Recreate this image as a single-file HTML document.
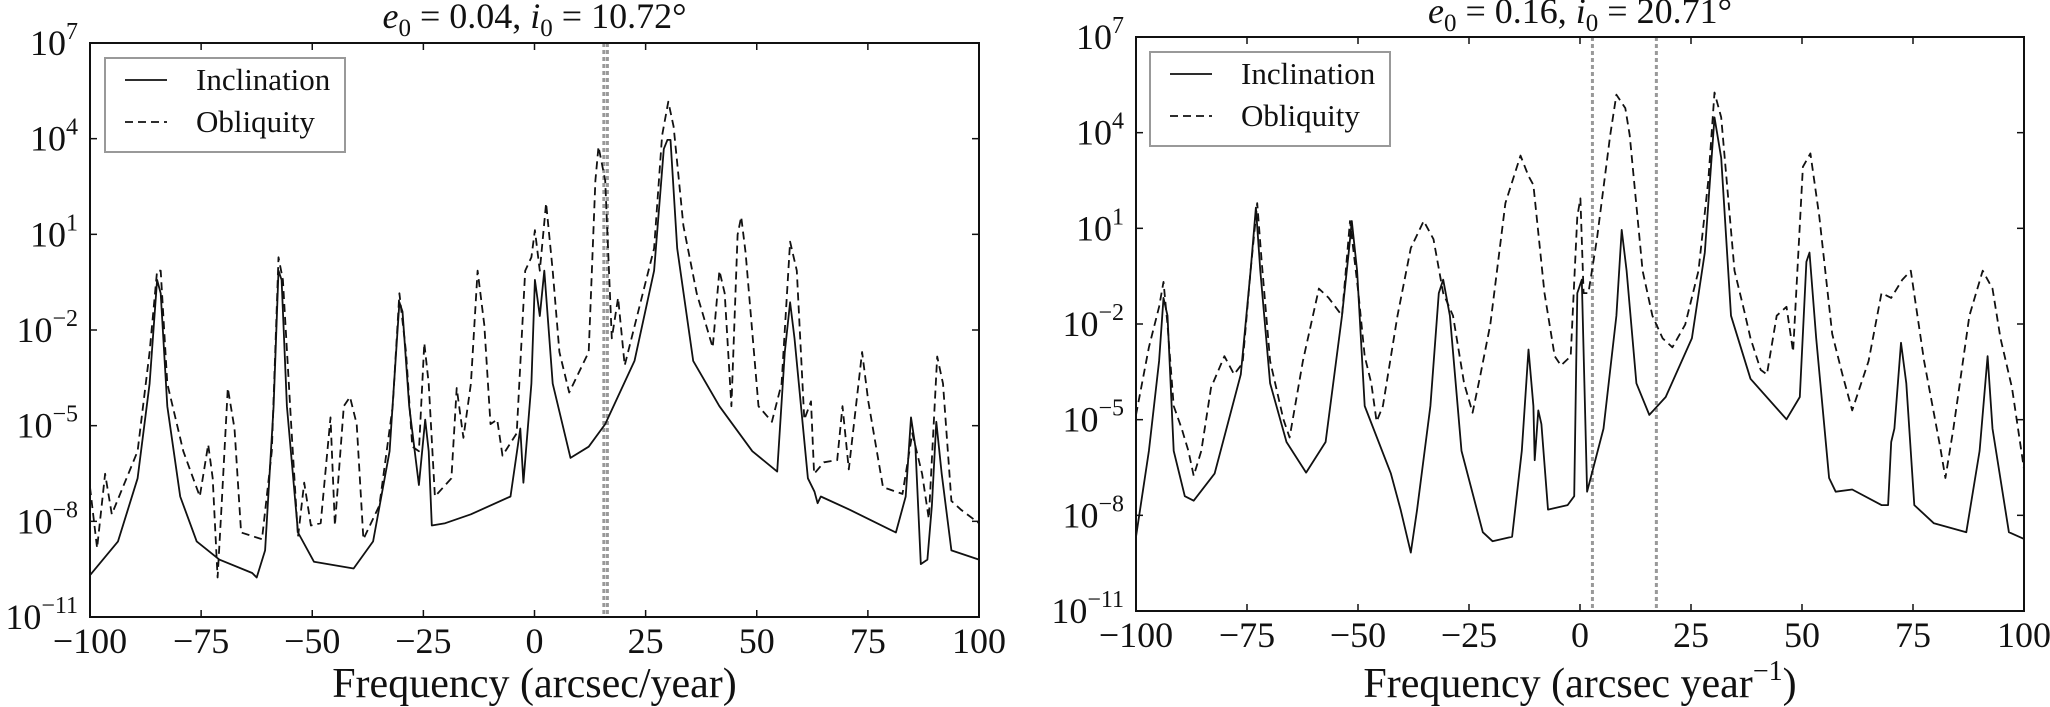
<!DOCTYPE html>
<html><head><meta charset="utf-8"><style>
html,body{margin:0;padding:0;background:#fff;}
svg{display:block;font-family:"Liberation Serif",serif;}
</style></head><body>
<svg id="fig" width="2050" height="707" viewBox="0 0 2050 707" xmlns="http://www.w3.org/2000/svg"></svg>
<script>
// ---- data (frequency in arcsec/yr, amplitude as log10 exponent) ----
const xTicks = [-100, -75, -50, -25, 0, 25, 50, 75, 100];
const yTicks = [-11, -8, -5, -2, 1, 4, 7];
const leftTitle = ["0.04", "10.72"];
const rightTitle = ["0.16", "20.71"];
const leftResonance = [15.6, 16.4];
const rightResonance = [2.8, 17.2];

const leftIncFreq = [-100,-93.7,-89.3,-86.6,-84.9,-84.1,-82.6,-79.7,-76,-70.9,-63.5,-62.5,-60.6,-58.7,-57.6,-56.9,-55.7,-53.2,-49.6,-40.7,-36.3,-32.6,-30.4,-29.7,-28.2,-26,-24.6,-23.8,-23.1,-20.1,-14.3,-5.4,-3.2,-2.5,-0.7,0.1,1.2,2.2,4.1,8.1,12.2,15.9,22.5,26.9,29.1,29.9,30.6,32.1,35.7,41.6,49,54.6,56.3,57.5,58.5,61.5,63,63.7,64.4,71,81.3,83.5,84.7,85.7,86.9,88.4,89.4,90.4,91.6,93.8,100];
const leftIncLog = [-9.69,-8.63,-6.65,-3.68,-0.43,-0.85,-4.39,-7.22,-8.63,-9.2,-9.62,-9.76,-8.91,-4.39,-0.14,-0.43,-4.39,-8.35,-9.27,-9.48,-8.63,-5.8,-1.13,-1.42,-4.39,-6.86,-4.81,-5.8,-8.13,-8.06,-7.78,-7.22,-5.09,-6.79,-3.68,-0.43,-1.56,-0.14,-3.68,-6.01,-5.66,-4.95,-2.97,-0.14,3.68,3.96,3.96,0.56,-2.97,-4.39,-5.8,-6.44,-2.69,-1.13,-2.26,-6.65,-7.07,-7.43,-7.22,-7.64,-8.35,-7.22,-4.74,-5.66,-9.34,-9.2,-7.5,-4.88,-6.51,-8.91,-9.2];

const leftOblFreq = [-100,-98.4,-96.6,-95.1,-89.3,-86.6,-84.9,-84.1,-82.6,-79,-75.3,-73.4,-72.4,-71.3,-70.4,-69,-67.5,-66,-61.3,-59.1,-57.6,-56.6,-54.7,-53.2,-51.8,-50.3,-48.1,-45.9,-44.9,-42.9,-41.5,-40,-38.5,-34.9,-31.9,-30.4,-28.9,-27.5,-26,-24.8,-23.8,-22.4,-18.7,-17.5,-16,-14.3,-12.8,-11.3,-9.9,-8.4,-7.2,-4,-2.1,-0.7,0.1,1.2,2.6,4.1,5.6,7.8,12.2,13.7,14.4,15.9,17.4,18.8,20.3,26.9,28.7,30.1,31.3,33.5,36.5,40.1,41.6,42.8,44.3,45.7,46.5,47.5,50.4,53.4,55.6,57.5,59,60.7,62.2,62.9,65.1,68.1,69.3,70.7,73.7,75.1,78.4,82.8,85,87.2,88.7,90.6,91.9,93.8,96,100];
const leftOblLog = [-6.93,-8.84,-6.51,-7.78,-5.8,-2.69,-0.14,-0.14,-3.68,-5.8,-7.22,-5.59,-6.65,-9.76,-7.5,-3.82,-5.09,-8.35,-8.56,-5.8,0.28,-0.43,-5.09,-8.49,-6.79,-8.13,-8.06,-4.74,-8.13,-4.39,-4.1,-4.95,-8.56,-7.5,-4.39,-0.85,-2.69,-5.66,-5.8,-2.41,-3.68,-7.22,-6.65,-3.82,-5.38,-3.68,-0.14,-1.84,-4.95,-4.81,-5.94,-5.24,-0.14,0.28,1.13,-0.14,1.98,-0.14,-2.69,-3.96,-2.69,2.69,3.75,2.69,-2.26,-0.99,-3.11,0.56,4.1,5.16,4.38,1.27,-0.85,-2.55,-0.14,-0.85,-4.39,0.99,1.55,0.42,-4.39,-4.88,-3.68,0.77,-0.14,-4.81,-4.24,-6.51,-6.15,-6.08,-4.39,-6.37,-2.69,-4.24,-6.93,-7.14,-5.24,-6.51,-7.92,-2.83,-3.68,-7.36,-7.64,-8.06];

const rightIncFreq = [-100,-97.1,-94.8,-93.8,-92.9,-91.5,-89,-87,-82.3,-76.4,-74.2,-73,-72,-69.8,-66.1,-61.7,-57.3,-53.6,-52.1,-51.4,-50.2,-48.5,-42.6,-40.4,-38.1,-36.7,-33.7,-31.8,-30.8,-29.3,-26.7,-21.9,-19.7,-15.3,-13.1,-11.6,-10.5,-10.2,-9.4,-8.7,-7.2,-2.8,-1.3,-0.6,0.4,1.6,5.3,8.2,9.4,10.5,12.7,15.6,19.3,25.2,28.1,30.3,31.8,34,38.4,46.5,49.5,51,51.7,53.2,56.1,57.6,61.3,67.9,69.4,70.1,70.8,72.3,73.5,75.3,79.7,87,90,91.8,92.9,96.6,100];
const rightIncLog = [-8.67,-5.98,-3.16,-1.18,-1.74,-5.98,-7.4,-7.54,-6.69,-3.58,-0.33,1.65,-0.33,-3.86,-5.7,-6.66,-5.7,-1.74,0.24,1.23,-0.33,-4.57,-6.69,-7.82,-9.17,-7.82,-4.57,-1.03,-0.61,-1.74,-5.98,-8.53,-8.81,-8.67,-5.98,-2.8,-4.57,-6.27,-4.71,-5.14,-7.82,-7.68,-7.4,-1.03,-0.61,-7.26,-5.28,-1.74,0.95,-0.33,-3.86,-4.85,-4.29,-2.45,0.24,4.48,3.21,-1.74,-3.72,-4.99,-4.29,-0.05,0.24,-2.45,-6.83,-7.26,-7.19,-7.68,-7.68,-5.7,-5.28,-2.59,-3.86,-7.68,-8.25,-8.53,-5.98,-3.01,-5.28,-8.53,-8.74];

const rightOblFreq = [-100,-97.1,-94.8,-93.8,-92.9,-91.5,-89.7,-88.2,-87,-85.3,-83.1,-80.1,-77.9,-76,-74.2,-72.7,-71.7,-69.8,-66.8,-65.4,-62.4,-58.8,-56.6,-53.6,-51.8,-49.9,-48.5,-47,-45.8,-44.4,-41.1,-38.1,-35.2,-33,-30.8,-28.6,-26.1,-24.2,-22.4,-20.2,-16.8,-13.4,-11.6,-10.5,-8,-5.7,-4.3,-2.1,-0.6,0.1,0.8,1.9,3.8,6.8,8.2,10.2,11.2,14.1,16.3,18.6,20.8,23.7,26.7,28.9,30.3,31.8,34.8,37,38.4,40.7,42.1,44.3,46.5,48,50.2,51.9,53.9,56.8,59.1,61.3,65,67.9,70.1,72.6,74.5,77.5,81.1,82.3,84.1,87.7,90.7,92.9,94.7,97.3,100];
const rightOblLog = [-4.85,-2.73,-1.46,-0.68,-2.02,-4.57,-5.28,-5.98,-6.76,-5.98,-4,-3.01,-3.58,-3.23,-0.33,1.79,-0.05,-3.16,-4.99,-5.56,-3.16,-0.89,-1.18,-1.74,1.23,-1.03,-3.01,-3.86,-5.06,-4.57,-1.74,0.38,1.23,0.66,-1.03,-1.74,-3.86,-4.78,-3.58,-2.02,1.79,3.28,2.64,2.36,-1.03,-3.01,-3.3,-3.01,1.37,1.94,-1.03,-1.03,0.66,3.92,5.19,4.77,3.92,-0.33,-1.74,-2.45,-2.73,-2.02,-0.33,2.5,5.26,4.48,-0.33,-1.6,-2.45,-3.44,-3.58,-1.74,-1.46,-2.87,2.93,3.35,1.37,-2.31,-3.58,-4.71,-3.16,-1.03,-1.18,-0.61,-0.33,-3.16,-5.84,-6.83,-5.28,-1.74,-0.33,-0.89,-2.45,-4,-6.55];

// ---- drawing ----
const NS = "http://www.w3.org/2000/svg";
const svg = document.getElementById("fig");
function mk(tag, attrs, parent){
  const e = document.createElementNS(NS, tag);
  for (const k in attrs) e.setAttribute(k, attrs[k]);
  (parent||svg).appendChild(e);
  return e;
}
function minusStr(v){ return v < 0 ? "\u2212" + Math.abs(v) : String(v); }

function panel(cfg){
  const g = mk("g", {});
  
  
  const L=cfg.x0, R=cfg.x1, T=cfg.y0, B=cfg.y1;
  const xs = f => L + (f + 100) / 200 * (R - L);
  const ys = v => T + (7 - v) / 18 * (B - T);

  cfg.res.forEach(f => {
    const l = mk("line", {x1: xs(f), x2: xs(f), y1: T, y2: B, stroke: "#999", "stroke-width": 3, "stroke-dasharray": "4,3"}, g);
    
    
  });

  function series(fr, lg, dash, nm){
    const d = fr.map((f,i) => (i ? "L" : "M") + xs(f).toFixed(1) + "," + ys(lg[i]).toFixed(1)).join("");
    const p = mk("path", {d: d, fill: "none", stroke: "#111", "stroke-width": 1.8, "stroke-linejoin": "round"}, g);
    if (dash) p.setAttribute("stroke-dasharray", "8,5");
    
    
  }
  series(cfg.incF, cfg.incL, false, 'inclination-line');
  series(cfg.oblF, cfg.oblL, true, 'obliquity-line');

  const fr = mk("rect", {x: L, y: T, width: R - L, height: B - T, fill: "none", stroke: "#111", "stroke-width": 2}, g);
  
  

  xTicks.forEach(t => {
    const x = xs(t);
    mk("line", {x1: x, x2: x, y1: B, y2: B - 7, stroke: "#111", "stroke-width": 1.5}, g);
    mk("line", {x1: x, x2: x, y1: T, y2: T + 7, stroke: "#111", "stroke-width": 1.5}, g);
    const tx = mk("text", {x: x, y: B + 36, "text-anchor": "middle", "font-size": 36, fill: "#111"}, g);
    tx.textContent = minusStr(t);
    
    
  });
  yTicks.forEach(t => {
    const y = ys(t);
    mk("line", {x1: L, x2: L + 7, y1: y, y2: y, stroke: "#111", "stroke-width": 1.5}, g);
    mk("line", {x1: R, x2: R - 7, y1: y, y2: y, stroke: "#111", "stroke-width": 1.5}, g);
    const tx = mk("text", {x: L - 12, y: y + 12, "text-anchor": "end", "font-size": 36, fill: "#111"}, g);
    const a = mk("tspan", {}, tx); a.textContent = "10";
    const b = mk("tspan", {dy: -16, "font-size": 24}, tx); b.textContent = minusStr(t);
    
    
  });

  const ti = mk("text", {x: (L + R) / 2, y: cfg.titleY, "text-anchor": "middle", "font-size": 36, fill: "#111"}, g);
  
  
  const parts = [["e","i"],["0","sub"],[" = " + cfg.title[0] + ", ",""],["i","i"],["0","sub"],[" = " + cfg.title[1] + "\u00b0",""]];
  let prevSub = false;
  parts.forEach(p => {
    const s = mk("tspan", {}, ti);
    s.textContent = p[0];
    if (p[1] === "i") s.setAttribute("font-style", "italic");
    if (p[1] === "sub") { s.setAttribute("font-size", 25); s.setAttribute("dy", 8); }
    else if (prevSub) s.setAttribute("dy", -8);
    prevSub = p[1] === "sub";
  });

  const xl = mk("text", {x: (L + R) / 2, y: 697, "text-anchor": "middle", "font-size": 42, fill: "#111"}, g);
  
  
  if (cfg.superLabel) {
    const a = mk("tspan", {}, xl); a.textContent = "Frequency (arcsec year";
    const b = mk("tspan", {dy: -17, "font-size": 28}, xl); b.textContent = "\u22121";
    const c = mk("tspan", {dy: 17}, xl); c.textContent = ")";
  } else xl.textContent = "Frequency (arcsec/year)";

  const lg = mk("g", {}, g);
  
  
  const lx = cfg.legX, ly = cfg.legY;
  mk("rect", {x: lx, y: ly, width: 240, height: 94, fill: "#fff", stroke: "#999", "stroke-width": 2}, lg);
  mk("line", {x1: lx + 20, x2: lx + 62, y1: ly + 22, y2: ly + 22, stroke: "#111", "stroke-width": 1.7}, lg);
  mk("line", {x1: lx + 20, x2: lx + 62, y1: ly + 64, y2: ly + 64, stroke: "#111", "stroke-width": 1.7, "stroke-dasharray": "8,5"}, lg);
  const t1 = mk("text", {x: lx + 91, y: ly + 32, "font-size": 31, fill: "#111"}, lg);
  t1.textContent = "Inclination";
  
  
  const t2 = mk("text", {x: lx + 91, y: ly + 74, "font-size": 31, fill: "#111"}, lg);
  t2.textContent = "Obliquity";
  
  
}

panel({name: "left-panel", x0: 90, x1: 979, y0: 43, y1: 617, res: leftResonance,
  incF: leftIncFreq, incL: leftIncLog, oblF: leftOblFreq, oblL: leftOblLog,
  title: leftTitle, titleY: 28, superLabel: false, legX: 105, legY: 58});
panel({name: "right-panel", x0: 1136, x1: 2024, y0: 37, y1: 611, res: rightResonance,
  incF: rightIncFreq, incL: rightIncLog, oblF: rightOblFreq, oblL: rightOblLog,
  title: rightTitle, titleY: 23, superLabel: true, legX: 1150, legY: 52});
</script>
</body></html>
